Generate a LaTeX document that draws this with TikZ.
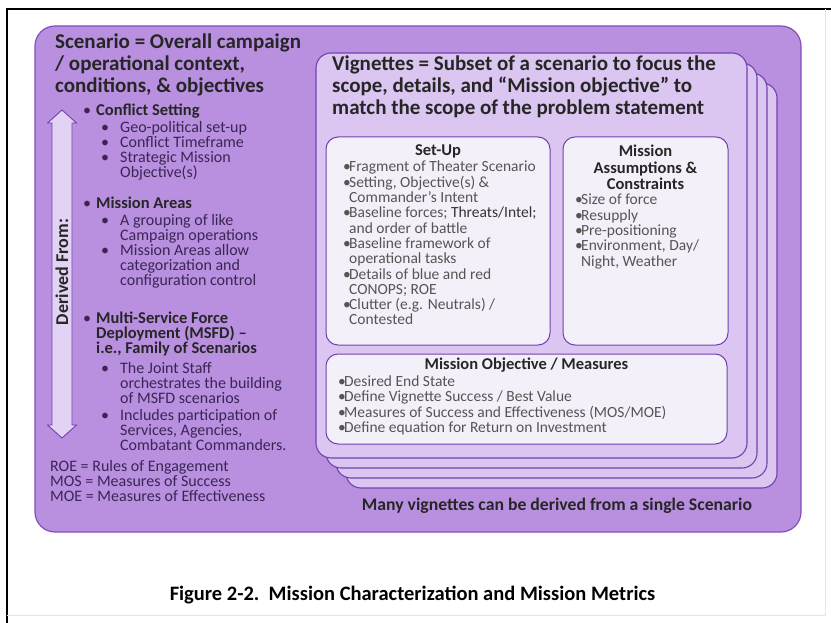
\documentclass[tikz,border=0pt]{standalone}
\usepackage{fontspec}
\setmainfont{Carlito}
\usetikzlibrary{positioning}
\definecolor{cScenFill}{RGB}{185, 143, 224}
\definecolor{cScenDraw}{RGB}{130, 80, 185}
\definecolor{cVigFill}{RGB}{218, 198, 240}
\definecolor{cVigDraw}{RGB}{115, 65, 175}
\definecolor{cBoxFill}{RGB}{244, 240, 249}
\definecolor{cArrowFill}{RGB}{226, 210, 243}
\definecolor{cSubText}{RGB}{58, 38, 84}
\definecolor{cItemText}{RGB}{85, 85, 85}
% bullets of the lists
\newcommand{\lvlOne}{\makebox[13pt][l]{\textbullet}}
\newcommand{\lvlTwo}{\hspace*{18pt}\makebox[19pt][l]{\textbullet}}
\newcommand{\lvlTwoCont}{\hspace*{37pt}}
\newcommand{\mainItem}[1]{{\color{black!85}\fontsize{16.5}{15}\selectfont\bfseries #1}}
\newcommand{\boxBul}{\makebox[6pt][l]{\textbullet}}
\newcommand{\boxCont}{\hspace*{6pt}}
\tikzset{
    % outer scenario panel
    scenBox/.style={rectangle, draw=cScenDraw, fill=cScenFill, line width=1.2pt, rounded corners=20pt},
    % vignette cards (stacked)
    vigCard/.style={rectangle, draw=cVigDraw, fill=cVigFill, line width=1.1pt,
        rounded corners=15pt, minimum width=431pt, minimum height=405pt},
    innerBox/.style={rectangle, draw=cVigDraw, fill=cBoxFill, line width=1pt, rounded corners=12pt},
    % texts
    titleText/.style={font=\fontsize{21}{22}\selectfont\bfseries, text=black!85, align=left, inner sep=0pt, anchor=north west},
    listText/.style={font=\fontsize{16}{15}\selectfont, text=cSubText, align=left, inner sep=0pt, anchor=north west},
    itemText/.style={font=\fontsize{15.5}{15.3}\selectfont, text=cItemText, align=left, inner sep=0pt, anchor=north west},
    headText/.style={font=\fontsize{16.5}{16.5}\selectfont\bfseries, text=black!85, align=center, inner sep=0pt},
    derivedArrow/.style={draw=cVigDraw, fill=cArrowFill, line width=0.9pt, line join=miter},
    derivedText/.style={font=\fontsize{18}{18}\selectfont\bfseries, text=black!85, inner sep=0pt}
}

\begin{document}
\begin{tikzpicture}[x=1pt, y=-1pt]

	\useasboundingbox (0, 0) rectangle (831, 623);
	\fill [white] (0, 0) rectangle (831, 623);

	% frame of the page
	\draw [black, line width=2pt] (7, 623) -- (7, 9) -- (831, 9);
	\draw [black!10, line width=0.6pt] (7, 615) -- (825, 615) -- (825, 9);

	% ==========================================
	% Scenario panel
	% ==========================================
	\node [scenBox, minimum width=766pt, minimum height=506pt] (scen) at (418, 279) {};

	\node [titleText] (scenTitle) at (55, 34) {
		Scenario = Overall campaign\\
		/ operational context,\\
		conditions, \& objectives
	};

	% --- Derived From arrow ---
	\draw [derivedArrow] (62, 110) -- (76.5, 123) -- (72, 123) -- (72, 425) -- (76.5, 425)
		-- (62, 438) -- (47.5, 425) -- (52, 425) -- (52, 123) -- (47.5, 123) -- cycle;
	\node [derivedText, rotate=90] (derived) at (62, 272) {Derived From:};

	% --- left lists ---
	\node [listText] (conflict) at (83, 104) {
		\lvlOne\mainItem{Conflict Setting}\\[2pt]
		\lvlTwo Geo-political set-up\\
		\lvlTwo Conflict Timeframe\\
		\lvlTwo Strategic Mission\\
		\lvlTwoCont Objective(s)
	};

	\node [listText] (areas) at (83, 197) {
		\lvlOne\mainItem{Mission Areas}\\[2pt]
		\lvlTwo A grouping of like\\
		\lvlTwoCont Campaign operations\\
		\lvlTwo Mission Areas allow\\
		\lvlTwoCont categorization and\\
		\lvlTwoCont configuration control
	};

	\node [listText] (msfd) at (83, 312) {
		\lvlOne\mainItem{Multi-Service Force}\\
		\hspace*{13pt}\mainItem{Deployment (MSFD) –}\\
		\hspace*{13pt}\mainItem{i.e., Family of Scenarios}\\[5pt]
		\lvlTwo The Joint Staff\\
		\lvlTwoCont orchestrates the building\\
		\lvlTwoCont of MSFD scenarios\\[2pt]
		\lvlTwo Includes participation of\\
		\lvlTwoCont Services, Agencies,\\
		\lvlTwoCont Combatant Commanders.
	};

	\node [listText] (acronyms) at (50, 460) {
		ROE = Rules of Engagement\\
		MOS = Measures of Success\\
		MOE = Measures of Effectiveness
	};

	% ==========================================
	% Vignette cards
	% ==========================================
	\foreach \k in {3, 2, 1} {
		\node [vigCard] (card\k) at (531.5 + 10*\k, 255.5 + 10*\k) {};
	}
	\node [vigCard] (vig) at (531.5, 255.5) {};

	\node [titleText] (vigTitle) at (332, 56) {
		Vignettes = Subset of a scenario to focus the\\
		scope, details, and “Mission objective” to\\
		match the scope of the problem statement
	};

	% --- Set-Up ---
	\node [innerBox, minimum width=224pt, minimum height=208pt] (setUp) at (438, 241) {};
	\node [headText, anchor=base] (setUpHead) at (438, 156) {Set-Up};
	\node [itemText] (setUpList) at (343, 161) {
		\boxBul Fragment of Theater Scenario\\
		\boxBul Setting, Objective(s) \&\\
		\boxCont Commander’s Intent\\
		\boxBul Baseline forces; {\color{black!80}Threats/Intel;}\\
		\boxCont and order of battle\\
		\boxBul Baseline framework of\\
		\boxCont operational tasks\\
		\boxBul Details of blue and red\\
		\boxCont CONOPS; ROE\\
		\boxBul Clutter (e.g. Neutrals) /\\
		\boxCont Contested
	};

	% --- Mission Assumptions ---
	\node [innerBox, right=12pt of setUp, minimum width=165pt, minimum height=208pt] (assume) {};
	\node [headText, anchor=north] (assumeHead) at (assume.north |- 0, 145) {
		Mission\\
		Assumptions \&\\
		Constraints
	};
	\node [itemText] (assumeList) at (575, 194) {
		\boxBul Size of force\\
		\boxBul Resupply\\
		\boxBul Pre-positioning\\
		\boxBul Environment, Day/\\
		\boxCont Night, Weather
	};

	% --- Mission Objective ---
	\node [innerBox, below=8pt of setUp.south west, anchor=north west, minimum width=401pt, minimum height=90pt] (objective) {};
	\node [headText, anchor=base] (objectiveHead) at (objective.north |- 0, 369.5) {Mission Objective / Measures};
	\node [itemText] (objectiveList) at (338, 375.5) {
		\boxBul Desired End State\\
		\boxBul Define Vignette Success / Best Value\\
		\boxBul Measures of Success and Effectiveness (MOS/MOE)\\
		\boxBul Define equation for Return on Investment
	};

	% --- bottom note ---
	\node [headText, font=\fontsize{17.7}{19}\selectfont\bfseries, anchor=base] (manyNote) at (557, 510) {Many vignettes can be derived from a single Scenario};

	% ==========================================
	% Caption
	% ==========================================
	\node [headText, font=\fontsize{20.5}{22}\selectfont\bfseries, text=black, anchor=base] (caption) at (412.5, 600)
	{Figure 2-2.\ \ Mission Characterization and Mission Metrics};

\end{tikzpicture}
\end{document}
